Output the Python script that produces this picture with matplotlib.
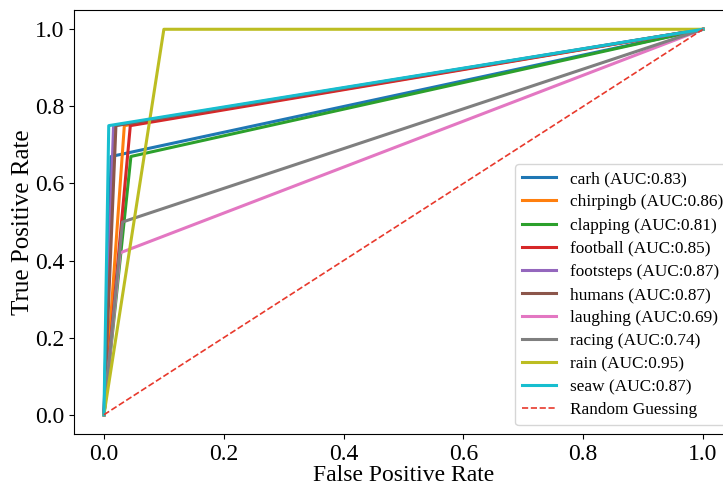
import matplotlib
matplotlib.use("Agg")
import matplotlib.pyplot as plt

classes = ['carh', 'chirpingb', 'clapping', 'football', 'footsteps',
           'humans', 'laughing', 'racing', 'rain', 'seaw']
fpr_mid = [0.012, 0.034, 0.045, 0.044, 0.016, 0.02, 0.027, 0.031, 0.10, 0.008]
tpr_mid = [0.67, 0.75, 0.67, 0.75, 0.75, 0.75, 0.42, 0.50, 1.0, 0.75]
auc_vals = [0.83, 0.86, 0.81, 0.85, 0.87, 0.87, 0.69, 0.74, 0.95, 0.87]

plt.rcParams['font.family'] = ['Liberation Serif', 'DejaVu Serif']

fig = plt.figure(figsize=(7.23, 4.87), dpi=100)
ax = fig.add_axes([74 / 723, 53 / 487, (733 - 74) / 723, 424 / 487])

for name, f, t, a in zip(classes, fpr_mid, tpr_mid, auc_vals):
    ax.plot([0, f, 1], [0, t, 1], lw=2.2, label=f'{name} (AUC:{a:.2f})')

ax.plot([0, 1], [0, 1], color='#e8392c', linestyle='--', lw=1.2, label='Random Guessing')

ax.set_xlim(-0.05, 1.05)
ax.set_ylim(-0.05, 1.05)
ax.set_xlabel('False Positive Rate', fontsize=17, labelpad=0)
ax.set_ylabel('True Positive Rate', fontsize=18, labelpad=1)
ax.tick_params(labelsize=17)
ax.legend(loc='lower right', fontsize=12.4, labelspacing=0.41,
          bbox_to_anchor=(1.009, 0.0))

fig.savefig('out.png', dpi=100)
